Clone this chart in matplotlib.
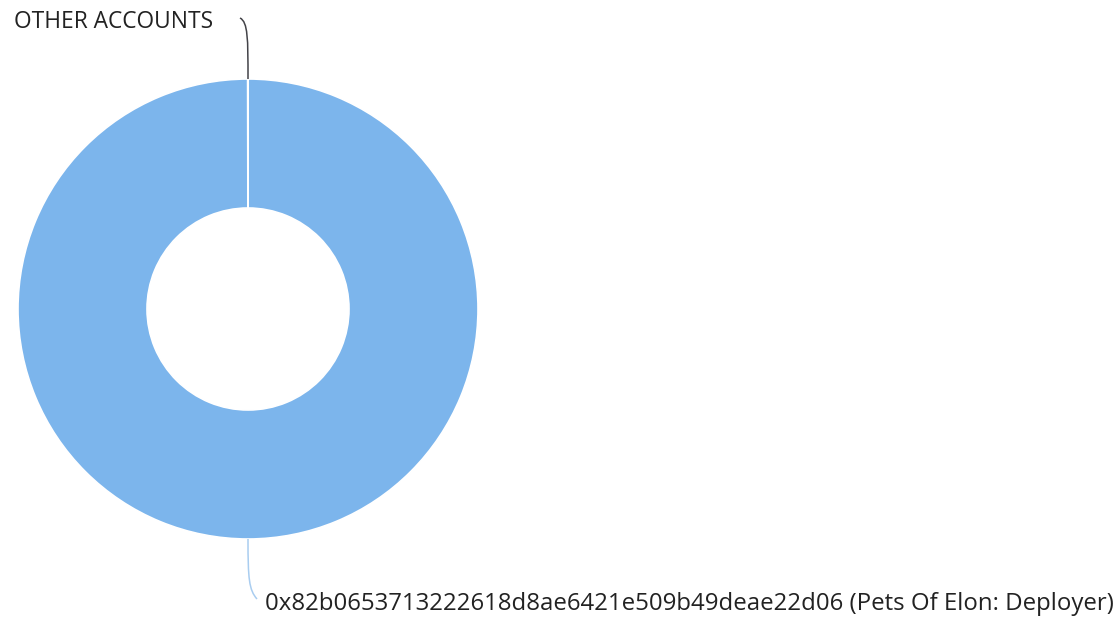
import matplotlib
matplotlib.use("Agg")
import matplotlib.pyplot as plt
from matplotlib.path import Path
from matplotlib.patches import PathPatch

labels = ["0x82b0653713222618d8ae6421e509b49deae22d06 (Pets Of Elon: Deployer)", "OTHER ACCOUNTS"]
values = [99.98, 0.02]
colors = ["#7cb5ec", "#434348"]

W, H = 1115, 618
fig = plt.figure(figsize=(W / 100, H / 100), dpi=100)
ax = fig.add_axes([0, 0, 1, 1])
ax.set_xlim(0, W)
ax.set_ylim(0, H)
ax.set_aspect("equal")
ax.axis("off")

cx, cy, R, r_in = 248, 618 - 309, 230, 101
ax.pie(values, colors=colors, startangle=90, counterclock=False,
       center=(cx, cy), radius=R, frame=True,
       wedgeprops=dict(width=R - r_in, edgecolor="white", linewidth=1.2))
ax.set_xlim(0, W)
ax.set_ylim(0, H)
ax.axis("off")

# connectors
def curve(pts, color):
    codes = [Path.MOVETO, Path.CURVE4, Path.CURVE4, Path.CURVE4]
    ax.add_patch(PathPatch(Path(pts, codes), fill=False, edgecolor=color, lw=1.1))

top = cy + R
curve([(cx, top), (cx, top + 40), (cx, H - 22), (cx - 8, H - 18)], "#434348")
bot = cy - R
curve([(cx, bot), (cx, bot - 40), (cx + 1, 618 - 590), (cx + 9, 618 - 599)], "#a9cdf0")

t1 = ax.text(14, H - 22, labels[1], fontsize=12, family="Open Sans", color="#222222",
             va="center", ha="left")
t2 = ax.text(265, 618 - 604, labels[0], fontsize=12, family="Open Sans", color="#222222",
             va="center", ha="left")

fig.canvas.draw()
rend = fig.canvas.get_renderer()
for t, target in [(t1, 212 - 14), (t2, 1110 - 265)]:
    w = t.get_window_extent(rend).width
    t.set_fontsize(t.get_fontsize() * target / w)

fig.savefig("out.png", dpi=100, facecolor="white")
